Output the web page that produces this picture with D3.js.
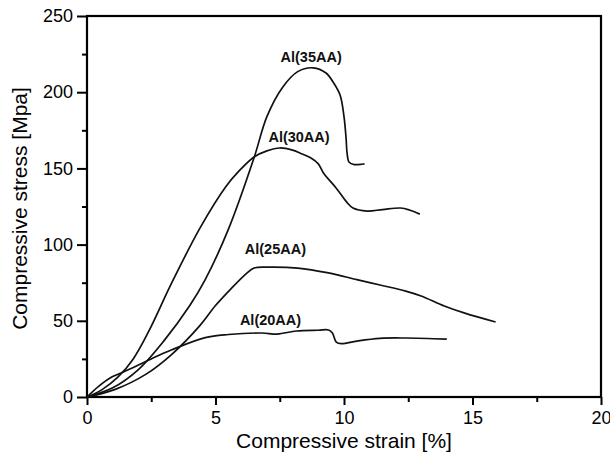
<!DOCTYPE html>
<html>
<head>
<meta charset="utf-8">
<script src="https://cdn.jsdelivr.net/npm/d3@7"></script>
<style>
  html, body { margin: 0; padding: 0; background: #fff; }
  svg { display: block; font-family: "Liberation Sans", Arial, sans-serif; }
</style>
</head>
<body>
<svg id="chart" width="610" height="452"></svg>
<script>
// Compressive stress–strain curves of the four foam samples
const seriesNames = ["Al(20AA)", "Al(25AA)", "Al(30AA)", "Al(35AA)"];

const strain20 = [0, 0.45, 0.9, 1.5, 2.5, 3.3, 4.6, 5.5, 6.8, 7.4, 8.15, 9.0, 9.4, 9.55, 9.7, 9.9, 10.5, 11.4, 12.4, 14.0];
const stress20 = [0, 7, 12.5, 17, 25, 31, 39, 41, 42, 41.3, 43.3, 43.8, 44, 42, 36, 35, 36.7, 38.5, 38.7, 38];

const strain25 = [0, 1.1, 2.3, 3.3, 4.4, 5.0, 5.6, 6.2, 6.5, 7.0, 8.2, 9.4, 10.5, 11.4, 12.4, 13.0, 13.9, 14.7, 15.9];
const stress25 = [0, 5, 15, 28, 47, 60, 71, 81, 84.6, 85.2, 84.6, 81.4, 77, 73.5, 69.5, 66.3, 59.7, 55, 49.2];

const strain30 = [0, 0.6, 1.2, 1.8, 2.4, 3.3, 4.4, 5.4, 5.9, 6.5, 7.0, 7.5, 8.0, 8.3, 8.7, 9.0, 9.2, 9.7, 10.1, 10.35, 10.9, 11.5, 12.2, 12.55, 12.95];
const stress30 = [0, 5, 13, 25, 43, 75, 111, 138, 148, 157.5, 161.5, 163.4, 162, 160, 157, 153, 147, 137, 128, 124, 122, 123, 124, 122.7, 120];

const strain35 = [0, 1, 2, 3, 4, 4.6, 5.5, 6.5, 7.0, 7.6, 8.2, 8.8, 9.3, 9.6, 9.85, 10.0, 10.08, 10.12, 10.2, 10.4, 10.8];
const stress35 = [0, 6, 18, 37, 60, 77, 110, 157, 184, 203, 213.5, 216, 212.6, 206, 198, 184, 170, 160, 154, 152.5, 153];

const xTicks = [0, 5, 10, 15, 20];
const yTicks = [0, 50, 100, 150, 200, 250];

const series = [
  { name: seriesNames[0], x: strain20, y: stress20, label: [7.14, 47.2] },
  { name: seriesNames[1], x: strain25, y: stress25, label: [7.33, 93.8] },
  { name: seriesNames[2], x: strain30, y: stress30, label: [8.25, 167.3] },
  { name: seriesNames[3], x: strain35, y: stress35, label: [8.72, 220] }
];

const svg = d3.select("#chart");
const plotLeft = 87, plotRight = 601, plotTop = 16, plotBottom = 397;

const x = d3.scaleLinear().domain([0, 20]).range([plotLeft, plotRight]);
const y = d3.scaleLinear().domain([0, 250]).range([plotBottom, plotTop]);

// minor ticks between the labelled ones
const xMinor = d3.range(2.5, 20, 5);
const yMinor = d3.range(25, 250, 50);

const gx = svg.append("g").attr("transform", `translate(0,${plotBottom})`);
gx.call(d3.axisBottom(x).tickValues(xMinor).tickSize(5).tickFormat(""));
gx.append("g").call(d3.axisBottom(x).tickValues(xTicks).tickSize(8).tickPadding(6).tickFormat(d3.format("d")));

const gy = svg.append("g").attr("transform", `translate(${plotLeft},0)`);
gy.call(d3.axisLeft(y).tickValues(yMinor).tickSize(5).tickFormat(""));
gy.append("g").call(d3.axisLeft(y).tickValues(yTicks).tickSize(10).tickPadding(4).tickFormat(d3.format("d")));

svg.selectAll(".domain").remove();
svg.selectAll(".tick line").attr("stroke", "#000").attr("stroke-width", 2);
svg.selectAll(".tick text")
  .attr("fill", "#000")
  .style("font-size", "18px")
  .style("font-family", "'Liberation Sans', Arial, sans-serif");

// frame
svg.append("rect")
  .attr("x", plotLeft).attr("y", plotTop)
  .attr("width", plotRight - plotLeft).attr("height", plotBottom - plotTop)
  .attr("fill", "none").attr("stroke", "#000").attr("stroke-width", 2.2);

// curves
const line = d3.line()
  .x(d => x(d[0]))
  .y(d => y(d[1]))
  .curve(d3.curveCatmullRom.alpha(0.5));

svg.append("g").selectAll("path")
  .data(series)
  .join("path")
  .attr("d", s => line(s.x.map((v, i) => [v, s.y[i]])))
  .attr("fill", "none")
  .attr("stroke", "#111")
  .attr("stroke-width", 1.7)
  .attr("stroke-linejoin", "round");

// curve names
svg.append("g").selectAll("text")
  .data(series)
  .join("text")
  .attr("x", s => x(s.label[0]))
  .attr("y", s => y(s.label[1]))
  .attr("text-anchor", "middle")
  .attr("font-weight", "bold")
  .attr("font-size", 14.5)
  .attr("fill", "#111")
  .text(s => s.name);

// axis titles
svg.append("text")
  .attr("x", (plotLeft + plotRight) / 2)
  .attr("y", 448)
  .attr("text-anchor", "middle")
  .attr("font-size", 21)
  .attr("fill", "#000")
  .text("Compressive strain [%]");

svg.append("text")
  .attr("transform", "translate(27,208.5) rotate(-90)")
  .attr("text-anchor", "middle")
  .attr("font-size", 21)
  .attr("fill", "#000")
  .text("Compressive stress [Mpa]");
</script>
</body>
</html>
